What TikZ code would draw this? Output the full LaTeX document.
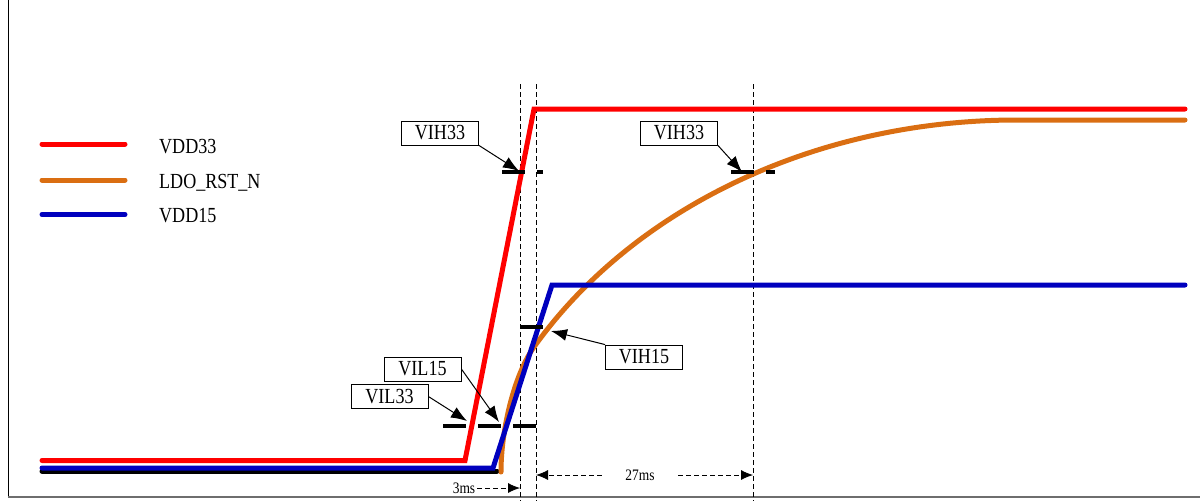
\documentclass[tikz,border=0pt]{standalone}
\usepackage{fontspec}
\setmainfont[FakeStretch=0.84]{Liberation Serif}
\usetikzlibrary{arrows.meta}
\definecolor{sigred}{RGB}{255,0,0}
\definecolor{sigorange}{RGB}{218,110,18}
\definecolor{sigblue}{RGB}{0,0,190}
\definecolor{axisgray}{RGB}{110,110,110}
\begin{document}
\begin{tikzpicture}[x=1pt,y=-1pt,
 sig/.style={line width=5pt,line cap=round,line join=miter},
 lvl/.style={line width=3.5pt,dash pattern=on 23pt off 12pt},
 lbl/.style={draw,line width=0.8pt,fill=white,minimum width=77pt,minimum height=24pt,inner sep=0pt,font=\fontsize{21.5}{24}\selectfont},
 ptr/.style={line width=1pt,-{Latex[length=16pt,width=12pt]}},
 guide/.style={line width=0.8pt,dash pattern=on 5pt off 3pt},
 tm/.style={line width=0.8pt,dash pattern=on 5pt off 3pt,-{Latex[length=12pt,width=10pt]}},
 leg/.style={anchor=base west,inner sep=0pt,font=\fontsize{21.5}{24}\selectfont},
 tmtext/.style={inner sep=0pt,font=\fontsize{16}{18}\selectfont},
]
\useasboundingbox (0,0) rectangle (1200,501);
% axes
\draw[line width=1pt] (8,0) -- (8,497);
\draw[line width=2pt,axisgray] (8,497) -- (1200,497);
% guide lines
\coordinate (g1t) at (520,84); \coordinate (g1b) at (520,501);
\coordinate (g2t) at (536,84); \coordinate (g2b) at (536,501);
\coordinate (g3t) at (753,84); \coordinate (g3b) at (753,501);
\draw[guide] (g1t) -- (g1b);
\draw[guide] (g2t) -- (g2b);
\draw[guide] (g3t) -- (g3b);
% signals
\draw[sig,black] (42,471) -- (497,471);
\draw[sig,sigorange] (501,472) .. controls (501,430) and (514,375) .. (534,347)
  .. controls (634,207) and (817,120) .. (1017,120) -- (1185,120);
\draw[sig,sigblue] (42,468) -- (493,468) -- (552,285) -- (1185,285);
\draw[sig,sigred] (42,460.5) -- (465,460.5) -- (534,109) -- (1185,109);
% level markers
\draw[lvl] (502,172) -- (543,172);
\draw[lvl] (731,172) -- (775,172);
\draw[lvl] (443,426) -- (536,426);
\draw[lvl] (520,327) -- (543,327);
% labels
\node[lbl] (vih33a) at (440,133) {VIH33};
\node[lbl] (vih33b) at (679,133) {VIH33};
\node[lbl] (vih15) at (644,357) {VIH15};
\node[lbl] (vil15) at (422.5,369) {VIL15};
\node[lbl] (vil33) at (389.5,396.5) {VIL33};
\coordinate (p1) at (519,171);
\coordinate (p2) at (742,172);
\coordinate (p3) at (551,331);
\coordinate (p4) at (467,421);
\coordinate (p5) at (499,422);
\draw[ptr] (vih33a.south east) -- (p1);
\draw[ptr] (vih33b.south east) -- (p2);
\draw[ptr] (vih15.north west) -- (p3);
\draw[ptr] (vil33.east) -- (p4);
\draw[ptr] (vil15.east) -- (p5);
% legend
\draw[sig,sigred] (42,144) -- (125,144);
\draw[sig,sigorange] (42,180) -- (125,180);
\draw[sig,sigblue] (42,214.5) -- (125,214.5);
\node[leg] (l1) at (159,153) {VDD33};
\node[leg] (l2) at (159,188) {LDO\_RST\_N};
\node[leg] (l3) at (159,222) {VDD15};
% timing
\node[tmtext] (t3) at (464,488) {3ms};
\draw[tm] ([xshift=2pt]t3.east) -- (t3.east -| g1t);
\node[tmtext,minimum width=76pt] (t27) at (640,475) {27ms};
\draw[tm] (t27.west) -- (t27.west -| g2t);
\draw[tm] (t27.east) -- (t27.east -| g3t);
\end{tikzpicture}
\end{document}
